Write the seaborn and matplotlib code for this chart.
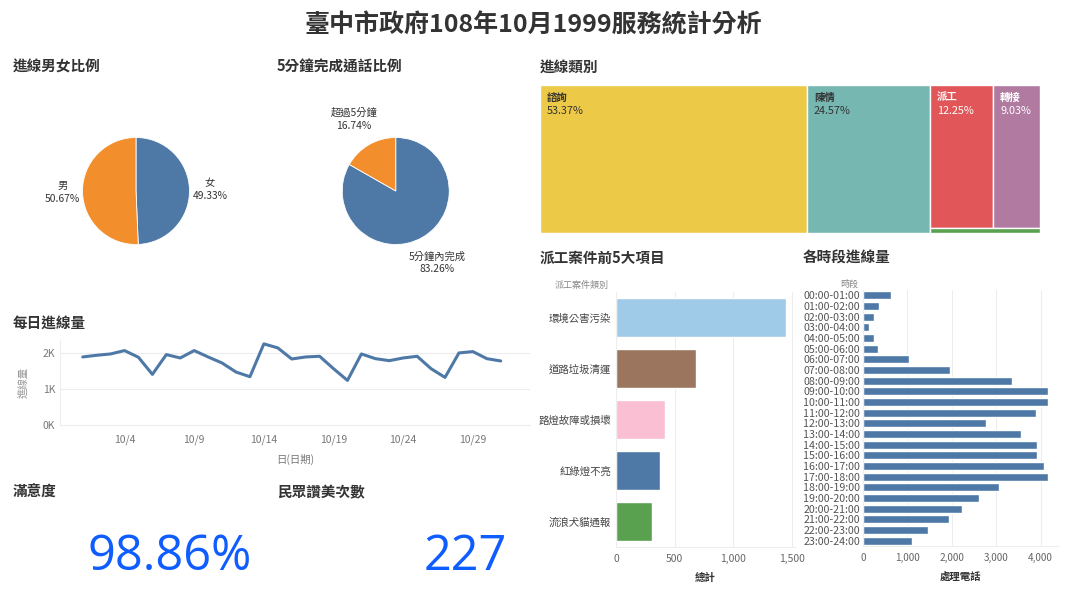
import matplotlib
matplotlib.use('Agg')
import numpy as np
import pandas as pd
import matplotlib.pyplot as plt
import seaborn as sns
from matplotlib.patches import Rectangle
from matplotlib.ticker import StrMethodFormatter

# ---- data ----
gender_labels = ['女', '男']
gender_pct = [49.33, 50.67]

call_labels = ['5分鐘內完成', '超過5分鐘']
call_pct = [83.26, 16.74]

days = list(range(1, 32))
daily_calls = [1897, 1944, 1981, 2075, 1888, 1411, 1963, 1869, 2075, 1897,
               1729, 1477, 1346, 2262, 2150, 1841, 1897, 1916, 1570, 1243,
               1981, 1850, 1794, 1869, 1916, 1570, 1327, 2009, 2047, 1850, 1785]
date_ticks = [4, 9, 14, 19, 24, 29]
date_tick_labels = ['10/4', '10/9', '10/14', '10/19', '10/24', '10/29']
k_ticks = [0, 1000, 2000]
k_labels = ['0K', '1K', '2K']

type_labels = ['諮詢', '陳情', '派工', '轉接', '其他']
type_pct = [53.37, 24.57, 12.25, 9.03, 0.78]

top5_items = ['環境公害污染', '道路垃圾清運', '路燈故障或損壞', '紅綠燈不亮', '流浪犬貓通報']
top5_counts = [1449, 682, 418, 378, 304]

hours = ['00:00-01:00', '01:00-02:00', '02:00-03:00', '03:00-04:00', '04:00-05:00',
         '05:00-06:00', '06:00-07:00', '07:00-08:00', '08:00-09:00', '09:00-10:00',
         '10:00-11:00', '11:00-12:00', '12:00-13:00', '13:00-14:00', '14:00-15:00',
         '15:00-16:00', '16:00-17:00', '17:00-18:00', '18:00-19:00', '19:00-20:00',
         '20:00-21:00', '21:00-22:00', '22:00-23:00', '23:00-24:00']
hour_calls = [624, 361, 256, 135, 241, 346, 1045, 1962, 3361, 4173, 4173, 3887,
              2774, 3564, 3910, 3925, 4075, 4173, 3068, 2602, 2233, 1932, 1474, 1105]

satisfaction = '98.86%'
praise_count = '227'

# ---- style ----
BLUE = '#4e79a7'
ORANGE = '#f28e2b'
type_colors = ['#edc948', '#76b7b2', '#e15759', '#b07aa1', '#59a14f']
type_text = ['#333333', '#333333', 'white', 'white', 'white']
top5_colors = ['#a0cbe8', '#9c755f', '#fabfd2', '#4e79a7', '#59a14f']

sns.set_style('white')
plt.rcParams['font.family'] = ['Noto Sans CJK TC', 'DejaVu Sans']

W, H = 1067, 600
fig = plt.figure(figsize=(W / 100, H / 100), dpi=100)


def px_axes(left, top, right, bottom):
    return fig.add_axes([left / W, 1 - bottom / H, (right - left) / W, (bottom - top) / H])


def ftext(x, y, s, **kw):
    kw.setdefault('va', 'center')
    return fig.text(x / W, 1 - y / H, s, **kw)


ftext(533, 25, '臺中市政府108年10月1999服務統計分析', ha='center', fontsize=18,
      fontweight='bold', color='#333333')
for x, y, s in [(13, 67, '進線男女比例'), (277, 67, '5分鐘完成通話比例'), (540, 67, '進線類別'),
                (13, 323, '每日進線量'), (540, 258, '派工案件前5大項目'), (803, 258, '各時段進線量'),
                (13, 492, '滿意度'), (277, 492, '民眾讚美次數')]:
    ftext(x, y, s, ha='left', fontsize=10.5, fontweight='bold', color='#333333')

# ---- pies ----
def pie(ax, values, labels, dist):
    texts = [f'{l}\n{v:.2f}%' for l, v in zip(labels, values)]
    ax.pie(values, labels=texts, colors=[BLUE, ORANGE], startangle=90, counterclock=False,
           labeldistance=dist, wedgeprops=dict(edgecolor='white', linewidth=0.6),
           textprops=dict(fontsize=7.4, color='#333333', ha='center', va='center',
                          linespacing=1.3))
    ax.set_xlim(-1, 1)
    ax.set_ylim(-1, 1)


pie(px_axes(82.5, 137.5, 189.5, 244.5), gender_pct, gender_labels, 1.38)
pie(px_axes(342, 137.5, 449.5, 244.5), call_pct, call_labels, 1.55)

# ---- treemap ----
ax = px_axes(540, 85, 1040, 233)
ax.set_xlim(0, 100)
ax.set_ylim(1, 0)
ax.axis('off')
rects = []
x0 = 0
for v in type_pct[:2]:
    rects.append((x0, 0, v, 1))
    x0 += v
rest = sum(type_pct[2:])
row = sum(type_pct[2:4])
row_h = row / rest
for v in type_pct[2:4]:
    w = v / row * rest
    rects.append((x0, 0, w, row_h))
    x0 += w
rects.append((100 - rest, row_h, rest, 1 - row_h))
for (rx, ry, rw, rh), lab, pct, c, tc in zip(rects, type_labels, type_pct, type_colors, type_text):
    ax.add_patch(Rectangle((rx, ry), rw, rh, facecolor=c, edgecolor='white', linewidth=1))
    if rh > 0.5:
        ax.annotate(lab, xy=(rx, ry), xytext=(5, -9), textcoords='offset points',
                    fontsize=7.5, fontweight='bold', color=tc, va='center')
        ax.annotate(f'{pct:.2f}%', xy=(rx, ry), xytext=(5, -19), textcoords='offset points',
                    fontsize=7.8, color=tc, va='center')

# ---- daily line ----
ax = px_axes(60, 340, 530, 425)
sns.lineplot(x=days, y=daily_calls, color=BLUE, linewidth=2.2, ax=ax)
ax.set_xlim(-0.63, 33.1)
ax.set_ylim(0, 2370)
ax.set_yticks(k_ticks)
ax.set_yticklabels(k_labels)
ax.set_xticks(date_ticks)
ax.set_xticklabels(date_tick_labels)
ax.grid(axis='y', color='#ededed', linewidth=0.8)
for s in ['top', 'right']:
    ax.spines[s].set_visible(False)
for s in ['left', 'bottom']:
    ax.spines[s].set_color('#eeeeee')
ax.tick_params(length=0, colors='#777777', labelsize=7.5)
ax.tick_params(axis='x', pad=7)
ax.set_xlabel('日(日期)', color='#777777', fontsize=7.5, labelpad=6)
ax.set_ylabel('進線量', color='#999999', fontsize=7.5, labelpad=10)

# ---- top 5 dispatch items ----
ax = px_axes(616, 292, 795, 547)
df_top = pd.DataFrame({'item': top5_items, 'count': top5_counts})
sns.barplot(data=df_top, x='count', y='item', hue='item', palette=top5_colors, legend=False,
            width=0.75, saturation=1, ax=ax)
ax.set_xlim(0, 1528)
ax.set_ylim(4.5, -0.5)
ax.set_xticks([0, 500, 1000, 1500])
ax.xaxis.set_major_formatter(StrMethodFormatter('{x:,.0f}'))
ax.grid(axis='x', color='#ededed', linewidth=0.8)
ax.set_axisbelow(True)
for s in ['top', 'right']:
    ax.spines[s].set_visible(False)
for s in ['left', 'bottom']:
    ax.spines[s].set_color('#eeeeee')
ax.tick_params(length=0, labelsize=7.5, colors='#444444')
ax.tick_params(axis='x', colors='#666666', pad=5)
ax.set_ylabel('')
ax.set_xlabel('總計', fontsize=7.5, fontweight='bold', color='#333333', labelpad=6)
ftext(555, 285, '派工案件類別', ha='left', fontsize=6.5, color='#888888')

# ---- calls by hour ----
ax = px_axes(863, 290, 1058, 546)
df_hour = pd.DataFrame({'hour': hours, 'calls': hour_calls})
sns.barplot(data=df_hour, x='calls', y='hour', color=BLUE, width=0.72, saturation=1, ax=ax)
ax.set_xlim(0, 4390)
ax.set_ylim(23.5, -0.5)
ax.set_xticks([0, 1000, 2000, 3000, 4000])
ax.xaxis.set_major_formatter(StrMethodFormatter('{x:,.0f}'))
ax.grid(axis='x', color='#ededed', linewidth=0.8)
ax.set_axisbelow(True)
for s in ['top', 'right']:
    ax.spines[s].set_visible(False)
for s in ['left', 'bottom']:
    ax.spines[s].set_color('#eeeeee')
ax.tick_params(length=0, labelsize=7.7, colors='#555555', pad=2)
ax.tick_params(axis='x', colors='#666666', pad=5, labelsize=7.2)
ax.set_ylabel('')
ax.set_xlabel('處理電話', fontsize=7.5, fontweight='bold', color='#333333', labelpad=6)
ftext(858, 284, '時段', ha='right', fontsize=6.5, color='#888888')

# ---- KPI numbers ----
ftext(252, 570, satisfaction, ha='right', va='baseline', fontsize=35, color='#0f5cff',
      family=['Open Sans', 'DejaVu Sans'])
ftext(507, 570, praise_count, ha='right', va='baseline', fontsize=35, color='#0f5cff',
      family=['Open Sans', 'DejaVu Sans'])

fig.savefig('out.png', dpi=100, facecolor='white')
